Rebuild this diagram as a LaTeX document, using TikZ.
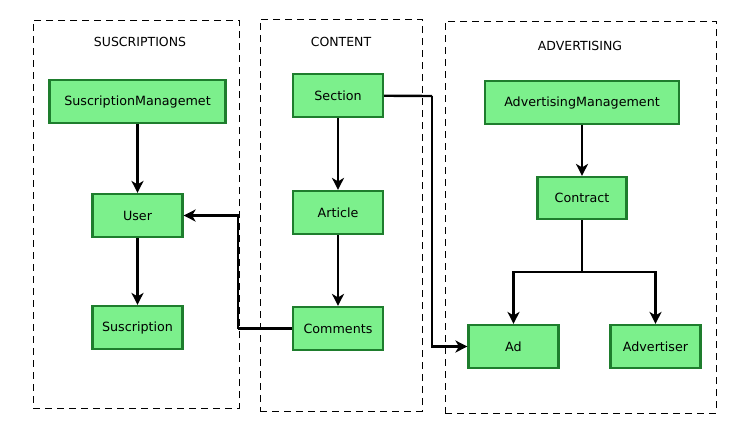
\documentclass[tikz,border=0pt]{standalone}
\usepackage{fontspec}
\setmainfont{DejaVu Sans}
\usepackage{tikz}
\usetikzlibrary{
  arrows.meta,
  chains,
  positioning,
  scopes
}
\definecolor{boxfill}{RGB}{124,240,140}
\definecolor{boxline}{RGB}{30,125,45}

\begin{document}
\begin{tikzpicture}[
      x=1pt,y=-1pt,
      module/.style={
         rectangle,
         minimum width=90pt,
         minimum height=43pt,
         inner sep=0pt,
         line width=2.2pt,
         draw=boxline,
         fill=boxfill,
         font=\fontsize{12.7}{14}\selectfont
      },
      group/.style={
         rectangle,
         inner sep=0pt,
         line width=1pt,
         dash pattern=on 7pt off 5pt,
         draw=black
      },
      title/.style={
         font=\fontsize{12.5}{14}\selectfont
      },
      point/.style={coordinate},
      >={Stealth[length=12pt,width=12pt,inset=3.5pt]},
      line width=2.4pt,draw=black,
      tip/.style={->},
      hv path/.style={to path={-| (\tikztotarget)}},
      vh path/.style={to path={|- (\tikztotarget)}}
    ]
    \useasboundingbox (0,0) rectangle (746,437);
    % groups
    \node (gsub) [group, minimum width=206pt, minimum height=388pt] at (136,214) {};
    \node (gcon) [group, minimum width=162pt, minimum height=392pt] at (341,215) {};
    \node (gadv) [group, minimum width=271pt, minimum height=392pt] at (580.5,217) {};
    \node (tsub) [title] at (140,42) {SUSCRIPTIONS};
    \node (tcon) [title] at (341,42) {CONTENT};
    \node (tadv) [title] at (580,46) {ADVERTISING};
    % suscriptions
    \node (sm)     [module, minimum width=176pt] at (137.5,101.5) {SuscriptionManagemet};
    \node (user)   [module] at (137.5,215.5) {User};
    \node (suscr)  [module] at (137.5,327.5) {Suscription};
    % content
    \node (section)  [module] at (338,95.5) {Section};
    \node (article)  [module] at (338,212.5) {Article};
    \node (comments) [module] at (338,328.5) {Comments};
    % advertising
    \node (am)         [module, minimum width=194pt] at (582,102.5) {AdvertisingManagement};
    \node (contract)   [module, minimum width=89pt, minimum height=42pt] at (582,198) {Contract};
    \node (ad)         [module] at (513.5,346.5) {Ad};
    \node (advertiser) [module] at (655.5,346.5) {Advertiser};
    % bends
    \node (p1) [point] at (238,328.5) {};
    \node (p2) [point] at (432,96) {};
    \node (p3) [point] at (582,272) {};
  { [start chain]
       \chainin (sm);
       \chainin (user)    [join=by tip];
       \chainin (suscr)   [join=by tip];
  }
  { [start chain]
       \chainin (section);
       \chainin (article)    [join=by tip];
       \chainin (comments)   [join=by tip];
  }
  { [start chain]
       \chainin (am);
       \chainin (contract)    [join=by tip];
       \chainin (p3)          [join];
       \chainin (ad)          [join=by {hv path,tip}];
  }
  { [start chain]
       \chainin (p3);
       \chainin (advertiser)  [join=by {hv path,tip}];
  }
  { [start chain]
       \chainin (comments);
       \chainin (p1)      [join];
       \chainin (user)    [join=by {vh path,tip}];
  }
  { [start chain]
       \chainin (section);
       \chainin (p2)      [join];
       \chainin (ad)      [join=by {vh path,tip}];
  }
\end{tikzpicture}
\end{document}
